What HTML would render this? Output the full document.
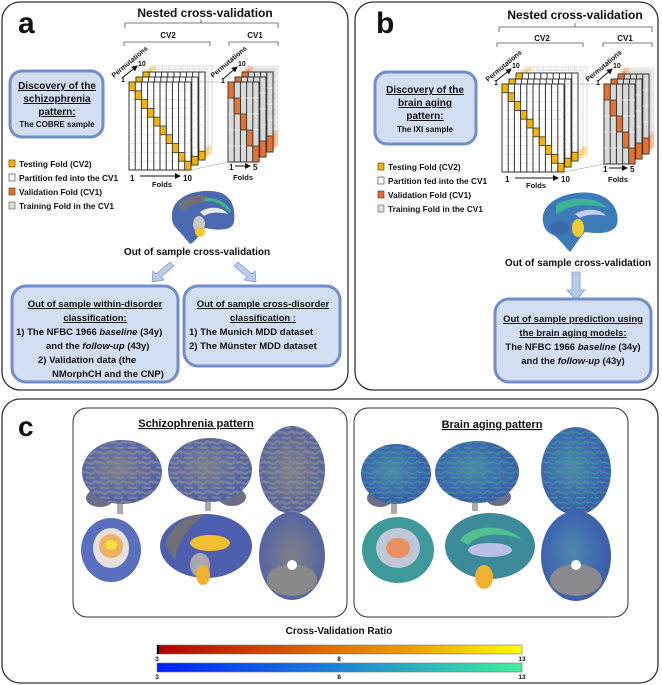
<!DOCTYPE html>
<html><head><meta charset="utf-8"><style>
html,body{margin:0;padding:0;background:#fff;width:662px;height:685px;overflow:hidden}
svg{display:block}
text{font-family:"Liberation Sans",sans-serif;font-weight:bold;fill:#111}
</style></head><body>
<svg width="662" height="685" viewBox="0 0 662 685" xmlns="http://www.w3.org/2000/svg">
<defs>
 <pattern id="sul" width="14" height="10" patternUnits="userSpaceOnUse">
  <path d="M0,3 C3,0 6,6 9,3 S13,1 14,4 M2,8 C5,6 8,10 11,7" fill="none" stroke="#8a8a90" stroke-width="2.2" opacity="0.8"/>
 </pattern>
 <pattern id="sula" width="14" height="10" patternUnits="userSpaceOnUse">
  <path d="M0,3 C3,0 6,6 9,3 S13,1 14,4 M2,8 C5,6 8,10 11,7" fill="none" stroke="#3aa890" stroke-width="1.5" opacity="0.6"/>
 </pattern>
 <g id="g2">
  <rect x="0" y="0" width="62" height="88" fill="#fff" stroke="#333" stroke-width="1"/>
  <g stroke="#ccc" stroke-width="0.6" stroke-dasharray="2,1">
   <line x1="0" y1="8.8" x2="62" y2="8.8"/><line x1="0" y1="17.6" x2="62" y2="17.6"/><line x1="0" y1="26.4" x2="62" y2="26.4"/><line x1="0" y1="35.2" x2="62" y2="35.2"/><line x1="0" y1="44" x2="62" y2="44"/><line x1="0" y1="52.8" x2="62" y2="52.8"/><line x1="0" y1="61.6" x2="62" y2="61.6"/><line x1="0" y1="70.4" x2="62" y2="70.4"/><line x1="0" y1="79.2" x2="62" y2="79.2"/>
  </g>
  <g stroke="#333" stroke-width="1">
   <line x1="6.2" y1="0" x2="6.2" y2="88"/><line x1="12.4" y1="0" x2="12.4" y2="88"/><line x1="18.6" y1="0" x2="18.6" y2="88"/><line x1="24.8" y1="0" x2="24.8" y2="88"/><line x1="31" y1="0" x2="31" y2="88"/><line x1="37.2" y1="0" x2="37.2" y2="88"/><line x1="43.4" y1="0" x2="43.4" y2="88"/><line x1="49.6" y1="0" x2="49.6" y2="88"/><line x1="55.8" y1="0" x2="55.8" y2="88"/>
  </g>
  <g fill="#f5b400" stroke="#333" stroke-width="0.8">
   <rect x="0" y="0" width="6.2" height="8.8"/><rect x="6.2" y="8.8" width="6.2" height="8.8"/><rect x="12.4" y="17.6" width="6.2" height="8.8"/><rect x="18.6" y="26.4" width="6.2" height="8.8"/><rect x="24.8" y="35.2" width="6.2" height="8.8"/><rect x="31" y="44" width="6.2" height="8.8"/><rect x="37.2" y="52.8" width="6.2" height="8.8"/><rect x="43.4" y="61.6" width="6.2" height="8.8"/><rect x="49.6" y="70.4" width="6.2" height="8.8"/><rect x="55.8" y="79.2" width="6.2" height="8.8"/>
  </g>
 </g>
 <g id="g2f" opacity="0.35">
  <rect x="0" y="0" width="62" height="88" fill="#fff" stroke="#999"/>
  <g stroke="#999" stroke-width="0.6"><line x1="6.2" y1="0" x2="6.2" y2="88"/><line x1="12.4" y1="0" x2="12.4" y2="88"/><line x1="18.6" y1="0" x2="18.6" y2="88"/><line x1="24.8" y1="0" x2="24.8" y2="88"/><line x1="31" y1="0" x2="31" y2="88"/><line x1="37.2" y1="0" x2="37.2" y2="88"/><line x1="43.4" y1="0" x2="43.4" y2="88"/><line x1="49.6" y1="0" x2="49.6" y2="88"/><line x1="55.8" y1="0" x2="55.8" y2="88"/></g>
  <rect x="55.8" y="79.2" width="6.2" height="8.8" fill="#f5b400"/><rect x="0" y="0" width="6.2" height="8.8" fill="#f5b400"/>
 </g>
 <g id="g1">
  <rect x="0" y="0" width="31" height="80" fill="#d9d9d9" stroke="#333"/>
  <g stroke="#333" stroke-width="1"><line x1="6.2" y1="0" x2="6.2" y2="80"/><line x1="12.4" y1="0" x2="12.4" y2="80"/><line x1="18.6" y1="0" x2="18.6" y2="80"/><line x1="24.8" y1="0" x2="24.8" y2="80"/></g>
  <g stroke="#fff" stroke-width="0.6"><line x1="0" y1="16" x2="31" y2="16"/><line x1="0" y1="32" x2="31" y2="32"/><line x1="0" y1="48" x2="31" y2="48"/><line x1="0" y1="64" x2="31" y2="64"/></g>
  <g fill="#e8702e" stroke="#333" stroke-width="0.8"><rect x="0" y="0" width="6.2" height="16"/><rect x="6.2" y="16" width="6.2" height="16"/><rect x="12.4" y="32" width="6.2" height="16"/><rect x="18.6" y="48" width="6.2" height="16"/><rect x="24.8" y="64" width="6.2" height="16"/></g>
 </g>
 <g id="g1f" opacity="0.4">
  <rect x="0" y="0" width="31" height="80" fill="#d0d0d0" stroke="#bbb"/>
  <rect x="24.8" y="64" width="6.2" height="16" fill="#e8702e"/><rect x="0" y="0" width="6.2" height="16" fill="#e8702e"/>
 </g>
 <linearGradient id="bar1" x1="0" x2="1"><stop offset="0" stop-color="#b00000"/><stop offset="0.4" stop-color="#d86000"/><stop offset="0.7" stop-color="#eaa000"/><stop offset="1" stop-color="#ffff00"/></linearGradient>
 <linearGradient id="bar2" x1="0" x2="1"><stop offset="0" stop-color="#0020ff"/><stop offset="0.5" stop-color="#1a86d6"/><stop offset="1" stop-color="#3ef09a"/></linearGradient>
 <radialGradient id="bs" cx="0.45" cy="0.45" r="0.6"><stop offset="0" stop-color="#7d7f8c"/><stop offset="0.6" stop-color="#5b6aa8"/><stop offset="1" stop-color="#4a5ca8"/></radialGradient>
 <radialGradient id="ba" cx="0.45" cy="0.45" r="0.6"><stop offset="0" stop-color="#4e8aa8"/><stop offset="0.6" stop-color="#3f6ab0"/><stop offset="1" stop-color="#3d58a8"/></radialGradient>
 <radialGradient id="bt" cx="0.5" cy="0.5" r="0.6"><stop offset="0" stop-color="#808088"/><stop offset="1" stop-color="#4d5ea8"/></radialGradient>
 <marker id="ah" markerWidth="6" markerHeight="6" refX="5" refY="3" orient="auto"><path d="M0,0 L6,3 L0,6z" fill="#111"/></marker>
</defs>

<!-- Panel a -->
<rect x="2" y="2" width="346" height="388" rx="18" fill="#fff" stroke="#333" stroke-width="1.3"/>
<text x="18" y="33" font-size="30">a</text>
<text x="205" y="17" font-size="12" text-anchor="middle">Nested cross-validation</text>
<path d="M125,28 V23 H278 V28 M201,23 V19" fill="none" stroke="#555" stroke-width="0.8"/>
<text x="168" y="38" font-size="8" text-anchor="middle">CV2</text>
<path d="M124,46 V42 H210 V46" fill="none" stroke="#555" stroke-width="0.8"/>
<text x="255" y="38" font-size="8" text-anchor="middle">CV1</text>
<path d="M229,46 V42 H278 V46" fill="none" stroke="#555" stroke-width="0.8"/>
<use href="#g2f" x="150" y="66"/><use href="#g2f" x="146" y="69"/>
<use href="#g2" x="143" y="72"/><use href="#g2" x="136" y="77"/><use href="#g2" x="129" y="82"/>
<line x1="191" y1="82" x2="228" y2="82" stroke="#999" stroke-width="0.6"/><line x1="191" y1="170" x2="228" y2="162" stroke="#999" stroke-width="0.6"/>
<use href="#g1f" x="247" y="66"/><use href="#g1f" x="244" y="69"/>
<use href="#g1" x="242" y="72"/><use href="#g1" x="235" y="77"/><use href="#g1" x="228" y="82"/>
<text transform="translate(114,78) rotate(-40)" font-size="7">Permutations</text>
<line x1="122" y1="78" x2="137" y2="66" stroke="#111" marker-end="url(#ah)"/><text x="121" y="82" font-size="7">1</text><text x="138" y="66" font-size="7">10</text>
<text transform="translate(213,78) rotate(-40)" font-size="7">Permutations</text>
<line x1="223" y1="79" x2="237" y2="67" stroke="#111" marker-end="url(#ah)"/><text x="221" y="83" font-size="7">1</text><text x="238" y="66" font-size="7">10</text>
<text x="130" y="181" font-size="8">1</text><line x1="140" y1="176" x2="180" y2="176" stroke="#111" marker-end="url(#ah)"/><text x="183" y="181" font-size="8">10</text>
<text x="162" y="187" font-size="7.5" text-anchor="middle">Folds</text>
<text x="229" y="170" font-size="8">1</text><line x1="235" y1="166" x2="250" y2="166" stroke="#111" marker-end="url(#ah)"/><text x="253" y="170" font-size="8">5</text>
<text x="243" y="180" font-size="7.5" text-anchor="middle">Folds</text>
<rect x="10" y="71" width="93" height="66" rx="12" fill="#d3def2" stroke="#6f8ecb" stroke-width="3"/>
<text x="57" y="89" font-size="10" text-anchor="middle" text-decoration="underline">Discovery of the</text>
<text x="57" y="102" font-size="10" text-anchor="middle" text-decoration="underline">schizophrenia</text>
<text x="57" y="115" font-size="10" text-anchor="middle" text-decoration="underline">pattern:</text>
<text x="57" y="127" font-size="8" text-anchor="middle">The COBRE sample</text>
<rect x="9" y="160" width="6" height="7" fill="#f5b400" stroke="#333" stroke-width="0.6"/><text x="19" y="167" font-size="8.3">Testing Fold (CV2)</text>
<rect x="9" y="174" width="6" height="7" fill="#fff" stroke="#333" stroke-width="0.6"/><text x="19" y="181" font-size="8.3">Partition fed into the CV1</text>
<rect x="9" y="188" width="6" height="7" fill="#e8702e" stroke="#333" stroke-width="0.6"/><text x="19" y="195" font-size="8.3">Validation Fold (CV1)</text>
<rect x="9" y="202" width="6" height="7" fill="#ddd" stroke="#555" stroke-width="0.6"/><text x="19" y="209" font-size="8.3">Training Fold in the CV1</text>
<!-- brain a -->
<path d="M172,215 C172,195 200,188 218,192 C232,195 236,210 234,222 C232,232 215,230 205,228 C198,238 192,244 190,244 C185,238 180,232 176,228 C172,224 172,220 172,215z" fill="#4c68b0"/>
<path d="M178,205 C185,194 205,192 210,200 C200,203 190,205 182,212z" fill="#6f7078"/>
<path d="M200,212 C208,206 222,206 228,214 C220,212 210,212 204,216z" fill="#e8e8e8"/>
<path d="M205,200 C215,198 226,204 230,212" fill="none" stroke="#3ab890" stroke-width="3"/>
<ellipse cx="199" cy="224" rx="6" ry="8" fill="#c8c8c8"/><ellipse cx="200" cy="232" rx="5" ry="5" fill="#f0c830"/>
<text x="197" y="255" font-size="10" text-anchor="middle">Out of sample cross-validation</text>
<path d="M170,262 L174,266 L161,277 L164,280 L152,282 L153,271 L156,274 L169,263z" fill="#b8cce8" stroke="#7f9ccf" stroke-width="0.8"/>
<path d="M238,262 L234,266 L247,277 L244,280 L256,282 L255,271 L252,274 L239,263z" fill="#b8cce8" stroke="#7f9ccf" stroke-width="0.8"/>
<rect x="12" y="286" width="166" height="96" rx="14" fill="#d3def2" stroke="#6f8ecb" stroke-width="3"/>
<text x="95" y="307" font-size="9.5" text-anchor="middle" text-decoration="underline">Out of sample within-disorder</text>
<text x="95" y="321" font-size="9.5" text-anchor="middle" text-decoration="underline">classification:</text>
<text x="16" y="335" font-size="9.5">1)   The NFBC 1966 <tspan font-style="italic">baseline</tspan> (34y)</text>
<text x="46" y="349" font-size="9.5">and the <tspan font-style="italic">follow-up</tspan> (43y)</text>
<text x="38" y="363" font-size="9.5">2)   Validation data (the</text>
<text x="52" y="377" font-size="9.5">NMorphCH and the CNP)</text>
<rect x="184" y="286" width="156" height="80" rx="14" fill="#d3def2" stroke="#6f8ecb" stroke-width="3"/>
<text x="263" y="307" font-size="9.5" text-anchor="middle" text-decoration="underline">Out of sample cross-disorder</text>
<text x="263" y="321" font-size="9.5" text-anchor="middle" text-decoration="underline">classification :</text>
<text x="189" y="335" font-size="9.5">1)   The Munich MDD dataset</text>
<text x="189" y="349" font-size="9.5">2)   The Münster MDD dataset</text>

<!-- Panel b -->
<rect x="355" y="2" width="303" height="388" rx="18" fill="#fff" stroke="#333" stroke-width="1.3"/>
<text x="376" y="33" font-size="30">b</text>
<text x="575" y="19" font-size="12" text-anchor="middle">Nested cross-validation</text>
<path d="M499,32 V27 H652 V32 M575,27 V23" fill="none" stroke="#555" stroke-width="0.8"/>
<text x="542" y="41" font-size="8" text-anchor="middle">CV2</text>
<path d="M497,47 V43 H583 V47" fill="none" stroke="#555" stroke-width="0.8"/>
<text x="625" y="41" font-size="8" text-anchor="middle">CV1</text>
<path d="M603,47 V43 H652 V47" fill="none" stroke="#555" stroke-width="0.8"/>
<use href="#g2f" x="525" y="67"/><use href="#g2f" x="521" y="70"/>
<use href="#g2" x="516" y="73"/><use href="#g2" x="509" y="79"/><use href="#g2" x="502" y="84"/>
<line x1="564" y1="84" x2="604" y2="84" stroke="#999" stroke-width="0.6"/><line x1="564" y1="172" x2="604" y2="164" stroke="#999" stroke-width="0.6"/>
<use href="#g1f" x="623" y="68"/><use href="#g1f" x="620" y="71"/>
<use href="#g1" x="618" y="74"/><use href="#g1" x="611" y="79"/><use href="#g1" x="604" y="84"/>
<text transform="translate(488,82) rotate(-40)" font-size="7">Permutations</text>
<line x1="496" y1="81" x2="511" y2="69" stroke="#111" marker-end="url(#ah)"/><text x="494" y="85" font-size="7">1</text><text x="512" y="68" font-size="7">10</text>
<text transform="translate(588,82) rotate(-40)" font-size="7">Permutations</text>
<line x1="598" y1="81" x2="612" y2="69" stroke="#111" marker-end="url(#ah)"/><text x="596" y="85" font-size="7">1</text><text x="613" y="68" font-size="7">10</text>
<text x="505" y="182" font-size="8">1</text><line x1="515" y1="178" x2="558" y2="178" stroke="#111" marker-end="url(#ah)"/><text x="561" y="182" font-size="8">10</text>
<text x="536" y="188" font-size="7.5" text-anchor="middle">Folds</text>
<text x="603" y="172" font-size="8">1</text><line x1="609" y1="168" x2="627" y2="168" stroke="#111" marker-end="url(#ah)"/><text x="630" y="172" font-size="8">5</text>
<text x="618" y="182" font-size="7.5" text-anchor="middle">Folds</text>
<rect x="375" y="72" width="101" height="72" rx="12" fill="#d3def2" stroke="#6f8ecb" stroke-width="3"/>
<text x="425" y="93" font-size="10" text-anchor="middle" text-decoration="underline">Discovery of the</text>
<text x="425" y="106" font-size="10" text-anchor="middle" text-decoration="underline">brain aging</text>
<text x="425" y="119" font-size="10" text-anchor="middle" text-decoration="underline">pattern:</text>
<text x="425" y="132" font-size="8" text-anchor="middle">The IXI sample</text>
<rect x="378" y="163" width="6" height="7" fill="#f5b400" stroke="#333" stroke-width="0.6"/><text x="388" y="170" font-size="8.3">Testing Fold (CV2)</text>
<rect x="378" y="177" width="6" height="7" fill="#fff" stroke="#333" stroke-width="0.6"/><text x="388" y="184" font-size="8.3">Partition fed into the CV1</text>
<rect x="378" y="191" width="6" height="7" fill="#e8702e" stroke="#333" stroke-width="0.6"/><text x="388" y="198" font-size="8.3">Validation Fold (CV1)</text>
<rect x="378" y="205" width="6" height="7" fill="#ddd" stroke="#555" stroke-width="0.6"/><text x="388" y="212" font-size="8.3">Training Fold in the CV1</text>
<!-- brain b -->
<path d="M543,222 C540,200 570,190 592,193 C612,196 620,212 617,224 C614,234 598,234 585,232 C578,240 572,250 570,252 C565,247 560,240 555,236 C546,232 544,228 543,222z" fill="#3d7ab8"/>
<path d="M556,205 C570,196 595,196 608,208 C600,206 588,204 575,206 C566,208 560,212 556,214z" fill="#3ec090" opacity="0.8"/>
<path d="M575,214 C585,208 600,208 606,216 C598,214 586,214 580,218z" fill="#c8d0f0"/>
<ellipse cx="578" cy="228" rx="6" ry="9" fill="#f0cc30"/><ellipse cx="560" cy="228" rx="10" ry="7" fill="#3a6aa8"/>
<text x="578" y="266" font-size="10" text-anchor="middle">Out of sample cross-validation</text>
<path d="M572,272 H580 V290 H585 L576,300 L567,290 H572z" fill="#b8cce8" stroke="#7f9ccf" stroke-width="0.8"/>
<rect x="495" y="299" width="156" height="83" rx="14" fill="#d3def2" stroke="#6f8ecb" stroke-width="3"/>
<text x="573" y="322" font-size="9.5" text-anchor="middle" text-decoration="underline">Out of sample prediction using</text>
<text x="573" y="336" font-size="9.5" text-anchor="middle" text-decoration="underline">the brain aging models:</text>
<text x="573" y="350" font-size="9.5" text-anchor="middle">The NFBC 1966 <tspan font-style="italic">baseline</tspan> (34y)</text>
<text x="573" y="364" font-size="9.5" text-anchor="middle">and the <tspan font-style="italic">follow-up</tspan> (43y)</text>

<!-- Panel c -->
<rect x="2" y="399" width="656" height="284" rx="18" fill="#fff" stroke="#333" stroke-width="1.3"/>
<text x="18" y="436" font-size="28">c</text>
<rect x="73" y="408" width="274" height="209" rx="14" fill="#fff" stroke="#333" stroke-width="1"/>
<rect x="354" y="408" width="274" height="209" rx="14" fill="#fff" stroke="#333" stroke-width="1"/>
<text x="196" y="427" font-size="11" text-anchor="middle" text-decoration="underline">Schizophrenia pattern</text>
<text x="492" y="428" font-size="11" text-anchor="middle" text-decoration="underline">Brain aging pattern</text>
<!-- schizo brains -->
<rect x="117" y="496" width="6" height="18" fill="#aaa"/><ellipse cx="100" cy="498" rx="14" ry="9" fill="#6a6e88"/>
<ellipse cx="122" cy="472" rx="40" ry="32" fill="url(#bs)"/><ellipse cx="122" cy="472" rx="40" ry="32" fill="url(#sul)"/>
<rect x="205" y="496" width="6" height="15" fill="#aaa"/><ellipse cx="232" cy="497" rx="14" ry="9" fill="#6a6e88"/>
<ellipse cx="210" cy="470" rx="42" ry="32" fill="url(#bs)"/><ellipse cx="210" cy="470" rx="42" ry="32" fill="url(#sul)"/>
<ellipse cx="292" cy="470" rx="33" ry="44" fill="url(#bt)"/><ellipse cx="292" cy="470" rx="33" ry="44" fill="url(#sul)"/>
<ellipse cx="111" cy="550" rx="30" ry="32" fill="#5a6fc0"/><ellipse cx="111" cy="548" rx="18" ry="20" fill="#e6e0e0"/><ellipse cx="111" cy="546" rx="12" ry="12" fill="#f0b060"/><ellipse cx="111" cy="545" rx="6" ry="5" fill="#f5e040"/>
<ellipse cx="206" cy="546" rx="46" ry="32" fill="#4d5fae"/><path d="M165,545 C170,525 190,512 205,515 C190,525 178,540 175,560z" fill="#6e6f78"/><ellipse cx="210" cy="543" rx="20" ry="8" fill="#f0c030"/><ellipse cx="200" cy="565" rx="10" ry="12" fill="#a8a8b0"/><ellipse cx="203" cy="575" rx="7" ry="10" fill="#f0b030"/>
<ellipse cx="292" cy="556" rx="33" ry="44" fill="url(#bt)"/><ellipse cx="292" cy="580" rx="25" ry="16" fill="#888"/><circle cx="292" cy="565" r="5" fill="#fff"/>
<!-- aging brains -->
<rect x="391" y="496" width="6" height="18" fill="#aaa"/><ellipse cx="380" cy="498" rx="13" ry="9" fill="#6a6e88"/>
<ellipse cx="396" cy="474" rx="35" ry="30" fill="url(#ba)"/><ellipse cx="396" cy="474" rx="35" ry="30" fill="url(#sula)"/>
<rect x="472" y="496" width="6" height="15" fill="#aaa"/><ellipse cx="498" cy="497" rx="13" ry="9" fill="#6a6e88"/>
<ellipse cx="477" cy="472" rx="42" ry="31" fill="url(#ba)"/><ellipse cx="477" cy="472" rx="42" ry="31" fill="url(#sula)"/>
<ellipse cx="576" cy="471" rx="35" ry="44" fill="url(#ba)"/><ellipse cx="576" cy="471" rx="35" ry="44" fill="url(#sula)"/>
<ellipse cx="398" cy="550" rx="36" ry="33" fill="#3e9a9a"/><ellipse cx="398" cy="548" rx="22" ry="20" fill="#c0c8d8"/><ellipse cx="398" cy="548" rx="12" ry="10" fill="#e89060"/>
<ellipse cx="490" cy="546" rx="45" ry="33" fill="#3d8a9a"/><path d="M460,540 C470,525 505,522 522,540 C505,532 480,532 468,545z" fill="#50c090"/><ellipse cx="490" cy="550" rx="22" ry="7" fill="#b8c0e8"/><ellipse cx="484" cy="577" rx="9" ry="12" fill="#f0b030"/>
<ellipse cx="576" cy="556" rx="35" ry="45" fill="url(#ba)"/><ellipse cx="576" cy="580" rx="26" ry="16" fill="#8a8a8e"/><circle cx="576" cy="565" r="5" fill="#fff"/>
<!-- colorbars -->
<text x="339" y="634" font-size="10" text-anchor="middle">Cross-Validation Ratio</text>
<rect x="157" y="645" width="365" height="9" fill="url(#bar1)" stroke="#777" stroke-width="0.6"/><rect x="157" y="645" width="2" height="9" fill="#000"/>
<rect x="157" y="663" width="365" height="9" fill="url(#bar2)" stroke="#777" stroke-width="0.6"/>
<g font-size="6.5" text-anchor="middle"><text x="157" y="661" font-weight="normal">3</text><text x="339" y="661" font-weight="normal">8</text><text x="522" y="661" font-weight="normal">13</text>
<text x="157" y="679" font-weight="normal">3</text><text x="339" y="679" font-weight="normal">8</text><text x="522" y="679" font-weight="normal">13</text></g>
</svg>
</body></html>
